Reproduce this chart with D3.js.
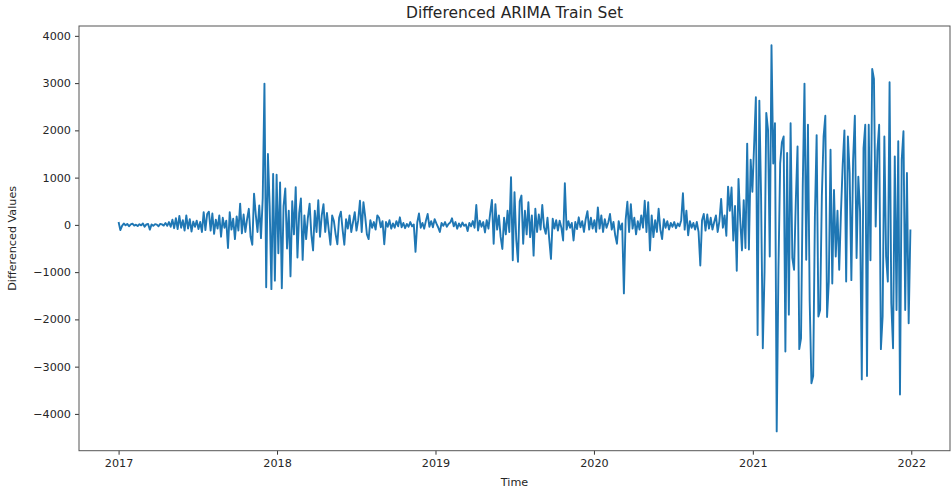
<!DOCTYPE html>
<html>
<head>
<meta charset="utf-8">
<script src="https://d3js.org/d3.v7.min.js"></script>
<style>
  body { margin: 0; background: #fff; }
  .chart text { font-family: "DejaVu Sans", sans-serif; fill: #262626; }
</style>
</head>
<body>
<div class="chart"></div>
<script>
// differenced values, one reading every 4 days starting 2017-01-01
var startDate = "2017-01-01";
var stepDays = 4;

var y2017 = [60, -110, -20, 30, -10, 20, -30, 10, 25, -15,
  5, -25, 15, -10, 30, -40, 10, 20, -100, 10,
  -20, 15, 5, -30, 20, 10, -15, 40, -20, 60,
  -40, 110, -70, 140, -90, 190, -60, 100, -120, 200,
  -80, 120, -140, 70, -40, 90, -90, 60, -150, 270,
  -110, 230, 280, -120, 240, -190, 110, -80, 200, -250,
  150, -60, 90, -490, 270, -100, 130, -300, 180, -120,
  450, -180, 220, -150, 120, 340, -250, -420, 660, 220,
  -150, 410, -280, 560, 2990, -1320, 1500, 400, -1360, 1080,
  -1180];

var y2018 = [1060, -600, 900, -1340, 400, 770, -500, 300, -1090, 500,
  -200, 800, -690, 250, 560, -740, 200, -300, 150, 450,
  -200, -540, 300, -150, 520, -250, 200, 440, -150, 250,
  -100, -420, 200, 80, -200, -410, 150, 280, -100, -420,
  120, -80, 200, -150, 60, 270, -120, 100, 510, -150,
  480, 180, -200, -300, 100, -60, 60, -100, 200, 150,
  -50, 80, -410, 60, -40, 100, -80, 30, -60, 80,
  -30, 160, -50, 40, -70, 20, -40, 60, -30, 10,
  -570, 50, 240, -60, 40, -80, 90, 230, -40, 80,
  -50, 120];

var y2019 = [30, -50, -150, 40, -20, 60, -40, 20, 50, 140,
  -30, 60, -80, 30, -40, 50, -20, 10, -130, 40,
  -30, 80, -60, 420, -120, 90, -40, 60, -160, 100,
  -80, 250, 530, -400, 440, -100, 200, -250, -510, 150,
  -200, 300, -150, 1010, -750, 690, -300, -780, 500, 620,
  -400, 300, -200, 480, -260, 200, -650, 340, -150, 220,
  -100, 420, -50, -190, 150, -300, -720, 130, -80, 100,
  -120, 90, -60, -330, 880, -100, 80, -60, 40, -330,
  60, -90, 160, -50, 80, -150, 120, 290, -100, 150,
  -80];

var y2020 = [100, -150, 370, -80, 200, -150, 120, -60, 50, 230,
  -100, 60, -220, -400, 80, -100, 30, -1450, 100, 490,
  -150, 440, -80, 150, -200, 80, -100, 200, -60, 510,
  -150, 480, -540, 200, -260, 100, -150, 340, -100, -300,
  120, -60, 80, -100, 40, -40, 60, -70, 30, -30,
  100, 670, -100, 300, -220, 80, -60, 40, -100, 60,
  -150, -860, 100, 230, -120, 220, -80, 150, -100, 60,
  200, -150, 80, 550, -60, 200, -230, 810, 300, 790,
  -330, 400, -970, 970, 100, -540, 520, -490, 1720, -520,
  1380, 700];

var y2021 = [1700, 2700, -2330, 2630, 600, -2610, -990, 2370, 2010, -670,
  3800, 1300, 2150, -4370, -950, 1300, 1750, 1870, -2680, 1520,
  -1900, 2150, -700, -950, 500, 1660, -2630, -2400, 800, 2990,
  -740, 2120, -1620, -3350, -3200, 180, 1900, -1940, -1800, 600,
  1870, 2310, -1950, -1200, 1590, -1240, 740, -670, 300, -950,
  250, 1270, 2000, -1200, 1870, 1100, -1170, 1380, 2310, -700,
  1020, 280, -3270, 1620, 2120, -3200, 2120, -750, 3300, 3090,
  -35, 1590, 2120, -2630, -1940, 1870, -670, -1200, 3020, -1660,
  -2610, 1450, -1800, 1770, -3590, 1380, 1980, -1800, 1100, -2080,
  -100];

var xTickYears = ["2017", "2018", "2019", "2020", "2021", "2022"];
var yTickValues = [-4000, -3000, -2000, -1000, 0, 1000, 2000, 3000, 4000];

var svgWidth = 951;
var svgHeight = 493;
var margin = { top: 26, right: 1, bottom: 42.3, left: 79 };
var width = svgWidth - margin.left - margin.right;
var height = svgHeight - margin.top - margin.bottom;

var parseTime = d3.utcParse("%Y-%m-%d");
var parseYear = d3.utcParse("%Y");
var start = parseTime(startDate);

// join the yearly pieces and put a date on every reading
var values = [].concat(y2017, y2018, y2019, y2020, y2021);
var series = values.map(function(v, i) {
  return { date: d3.utcDay.offset(start, i * stepDays), value: v };
});

var svg = d3.select(".chart")
  .append("svg")
  .attr("width", svgWidth)
  .attr("height", svgHeight);

var chart = svg.append("g")
  .attr("transform", "translate(" + margin.left + "," + margin.top + ")");

// matplotlib style 5% padding on both axes
var xExtent = d3.extent(series, function(d) { return d.date; });
var xPad = (xExtent[1] - xExtent[0]) * 0.05;
var yMin = d3.min(series, function(d) { return d.value; });
var yMax = d3.max(series, function(d) { return d.value; });
var yPad = (yMax - yMin) * 0.05;

var xTimeScale = d3.scaleUtc()
  .domain([new Date(+xExtent[0] - xPad), new Date(+xExtent[1] + xPad)])
  .range([0, width]);

var yLinearScale = d3.scaleLinear()
  .domain([yMin - yPad, yMax + yPad])
  .range([height, 0]);

var bottomAxis = d3.axisBottom(xTimeScale)
  .tickValues(xTickYears.map(parseYear))
  .tickFormat(d3.utcFormat("%Y"))
  .tickSize(4)
  .tickPadding(4);

var leftAxis = d3.axisLeft(yLinearScale)
  .tickValues(yTickValues)
  .tickFormat(d3.format("d"))
  .tickSize(4)
  .tickPadding(4);

// the line
var line = d3.line()
  .x(function(d) { return xTimeScale(d.date); })
  .y(function(d) { return yLinearScale(d.value); });

chart.append("path")
  .datum(series)
  .attr("d", line)
  .attr("fill", "none")
  .attr("stroke", "#1f77b4")
  .attr("stroke-width", 1.9)
  .attr("stroke-linejoin", "round");

// axes
var xAxisG = chart.append("g")
  .attr("transform", "translate(0," + height + ")")
  .call(bottomAxis);

var yAxisG = chart.append("g")
  .call(leftAxis);

[xAxisG, yAxisG].forEach(function(g) {
  g.select(".domain").remove();
  g.selectAll(".tick line").attr("stroke", "#333").attr("stroke-width", 1);
  g.selectAll(".tick text")
    .style("font-family", "'DejaVu Sans', sans-serif")
    .style("font-size", "11.2px")
    .attr("fill", "#262626");
});

// frame
chart.append("rect")
  .attr("width", width)
  .attr("height", height)
  .attr("fill", "none")
  .attr("stroke", "#555")
  .attr("stroke-width", 1);

// title and labels
svg.append("text")
  .attr("x", margin.left + width / 2)
  .attr("y", 18.3)
  .attr("text-anchor", "middle")
  .style("font-size", "15.5px")
  .text("Differenced ARIMA Train Set");

svg.append("text")
  .attr("x", margin.left + width / 2)
  .attr("y", 486)
  .attr("text-anchor", "middle")
  .style("font-size", "11.2px")
  .text("Time");

svg.append("text")
  .attr("transform", "rotate(-90)")
  .attr("x", -(margin.top + height / 2))
  .attr("y", 16)
  .attr("text-anchor", "middle")
  .style("font-size", "11.2px")
  .text("Differenced Values");
</script>
</body>
</html>
